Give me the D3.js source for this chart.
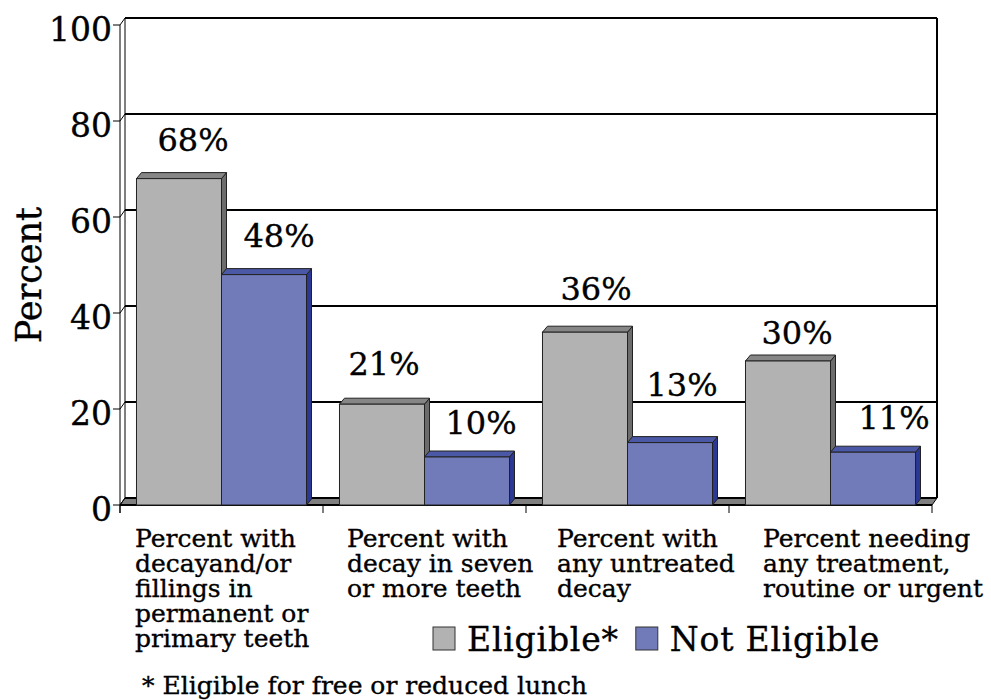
<!DOCTYPE html>
<html>
<head>
<meta charset="utf-8">
<script src="https://cdn.jsdelivr.net/npm/d3@7"></script>
<style>
  html, body { margin: 0; padding: 0; background: #fff; }
  svg { display: block; }
  text { font-family: "DejaVu Serif", serif; fill: #000; stroke: #000; stroke-width: 0.35px; }
</style>
</head>
<body>
<svg id="chart" width="991" height="700"></svg>
<script>
// ---- data ----
const categories = [
  ["Percent with", "decayand/or", "fillings in", "permanent or", "primary teeth"],
  ["Percent with", "decay in seven", "or more teeth"],
  ["Percent with", "any untreated", "decay"],
  ["Percent needing", "any treatment,", "routine or urgent"]
];
const seriesNames = ["Eligible*", "Not Eligible"];
const eligible = [68, 21, 36, 30];
const notEligible = [48, 10, 13, 11];
const yTicks = [0, 20, 40, 60, 80, 100];
const yTitle = "Percent";
const footnote = "* Eligible for free or reduced lunch";

// ---- layout ----
const svg = d3.select("#chart");
const plotLeft = 120, plotRight = 932, plotBottom = 505, plotTop = 25;
const depthX = 5, depthY = 7;           // 3D offset of the back wall
const barDepthX = 5, barDepthY = 6;     // 3D offset of each bar

const seriesColors = [
  { front: "#b2b2b2", top: "#868686", side: "#6c6c6c" },
  { front: "#717bb9", top: "#4b58a5", side: "#2b3894" }
];

const x0 = d3.scaleBand().domain(d3.range(categories.length))
  .range([plotLeft, plotRight]).paddingInner(0).paddingOuter(0);
const x1 = d3.scaleBand().domain(d3.range(seriesNames.length))
  .range([0, x0.bandwidth()]).paddingInner(0).paddingOuter(0.194);
const y = d3.scaleLinear().domain([0, 100]).range([plotBottom, plotTop]);

const rows = categories.map((c, i) => [eligible[i], notEligible[i]]);

// ---- back wall and gridlines ----
const g = svg.append("g");
const backL = plotLeft + depthX, backR = plotRight + depthX;

g.selectAll("line.grid").data(yTicks.filter(t => t > 0)).enter().append("line")
  .attr("x1", backL).attr("x2", backR)
  .attr("y1", d => y(d) - depthY).attr("y2", d => y(d) - depthY)
  .attr("stroke", "#000").attr("stroke-width", 2);

// back wall right edge and left edge
g.append("line").attr("x1", backR).attr("x2", backR)
  .attr("y1", y(100) - depthY).attr("y2", y(0) - depthY)
  .attr("stroke", "#000").attr("stroke-width", 2);
g.append("line").attr("x1", backL).attr("x2", backL)
  .attr("y1", y(100) - depthY).attr("y2", y(0) - depthY)
  .attr("stroke", "#000").attr("stroke-width", 1);

// floor
g.append("path")
  .attr("d", `M${plotLeft},${y(0)} L${plotRight},${y(0)} L${backR},${y(0) - depthY} L${backL},${y(0) - depthY} Z`)
  .attr("fill", "#7f7f7f").attr("stroke", "#000").attr("stroke-width", 1);
g.append("line").attr("x1", backL).attr("x2", backR)
  .attr("y1", y(0) - depthY).attr("y2", y(0) - depthY)
  .attr("stroke", "#000").attr("stroke-width", 2);

// left axis (front) with ticks running back to the wall
g.append("line").attr("x1", plotLeft).attr("x2", plotLeft)
  .attr("y1", y(100)).attr("y2", y(0) + 8)
  .attr("stroke", "#000").attr("stroke-width", 1);
const tickG = g.selectAll("g.ytick").data(yTicks).enter().append("g");
tickG.append("path")
  .attr("d", d => `M${plotLeft - 7},${y(d)} L${plotLeft},${y(d)} L${backL},${y(d) - depthY}`)
  .attr("fill", "none").attr("stroke", "#000").attr("stroke-width", 1);
tickG.append("text")
  .attr("x", plotLeft - 8).attr("y", d => y(d) + 16)
  .attr("text-anchor", "end").style("font-size", "33px")
  .text(d => d);

// category ticks below the floor
g.selectAll("line.xtick").data(d3.range(categories.length + 1)).enter().append("line")
  .attr("x1", i => plotLeft + i * x0.step()).attr("x2", i => plotLeft + i * x0.step())
  .attr("y1", y(0)).attr("y2", y(0) + 8)
  .attr("stroke", "#000").attr("stroke-width", 1);
g.append("line").attr("x1", plotLeft).attr("x2", plotRight)
  .attr("y1", y(0)).attr("y2", y(0))
  .attr("stroke", "#000").attr("stroke-width", 2);

// ---- bars ----
const bars = [];
rows.forEach((r, ci) => r.forEach((v, si) => bars.push({ ci, si, v })));

const barG = g.selectAll("g.bar").data(bars).enter().append("g");
barG.each(function (d) {
  const el = d3.select(this);
  const bx = x0(d.ci) + x1(d.si), bw = x1.bandwidth();
  const top = y(d.v), base = y(0);
  const c = seriesColors[d.si];
  el.append("path") // side face
    .attr("d", `M${bx + bw},${top} L${bx + bw + barDepthX},${top - barDepthY} L${bx + bw + barDepthX},${base - barDepthY} L${bx + bw},${base} Z`)
    .attr("fill", c.side).attr("stroke", "#222").attr("stroke-width", 1);
  el.append("path") // top face
    .attr("d", `M${bx},${top} L${bx + bw},${top} L${bx + bw + barDepthX},${top - barDepthY} L${bx + barDepthX},${top - barDepthY} Z`)
    .attr("fill", c.top).attr("stroke", "#222").attr("stroke-width", 1);
  el.append("rect") // front face
    .attr("x", bx).attr("y", top).attr("width", bw).attr("height", base - top)
    .attr("fill", c.front).attr("stroke", "#222").attr("stroke-width", 1);
});

// value labels, nudged clear of gridlines
const labelNudge = [[[2, 0], [3, 0]], [[-10, -1], [2, 5]], [[-1, -4], [0, -19]], [[-3, 11], [9, 5]]];
g.selectAll("text.value").data(bars).enter().append("text")
  .attr("x", d => x0(d.ci) + x1(d.si) + x1.bandwidth() / 2 + 12 + labelNudge[d.ci][d.si][0])
  .attr("y", d => y(d.v) - 28 + labelNudge[d.ci][d.si][1])
  .attr("text-anchor", "middle").style("font-size", "32px")
  .text(d => d.v + "%");

// ---- category labels ----
const labelInset = [15, 24, 31, 34];
categories.forEach((lines, ci) => {
  const t = g.append("text")
    .attr("x", x0(ci) + labelInset[ci]).attr("y", 547)
    .style("font-size", "25px");
  lines.forEach((ln, li) => {
    t.append("tspan").attr("x", x0(ci) + labelInset[ci]).attr("y", 547 + li * 25).text(ln);
  });
});

// ---- y title ----
svg.append("text")
  .attr("transform", "translate(41,275) rotate(-90)")
  .attr("text-anchor", "middle").style("font-size", "35px")
  .text(yTitle);

// ---- legend ----
const legend = svg.append("g");
let lx = 433;
seriesNames.forEach((name, i) => {
  legend.append("rect").attr("x", lx).attr("y", 627).attr("width", 22).attr("height", 23)
    .attr("fill", seriesColors[i].front).attr("stroke", "#333").attr("stroke-width", 1);
  const t = legend.append("text").attr("x", lx + 34).attr("y", 651)
    .style("font-size", "33px").style("letter-spacing", "0.8px").text(name);
  lx = lx + 34 + t.node().getComputedTextLength() + 17;
});

// ---- footnote ----
svg.append("text").attr("x", 142).attr("y", 694)
  .style("font-size", "25px").text(footnote);
</script>
</body>
</html>
